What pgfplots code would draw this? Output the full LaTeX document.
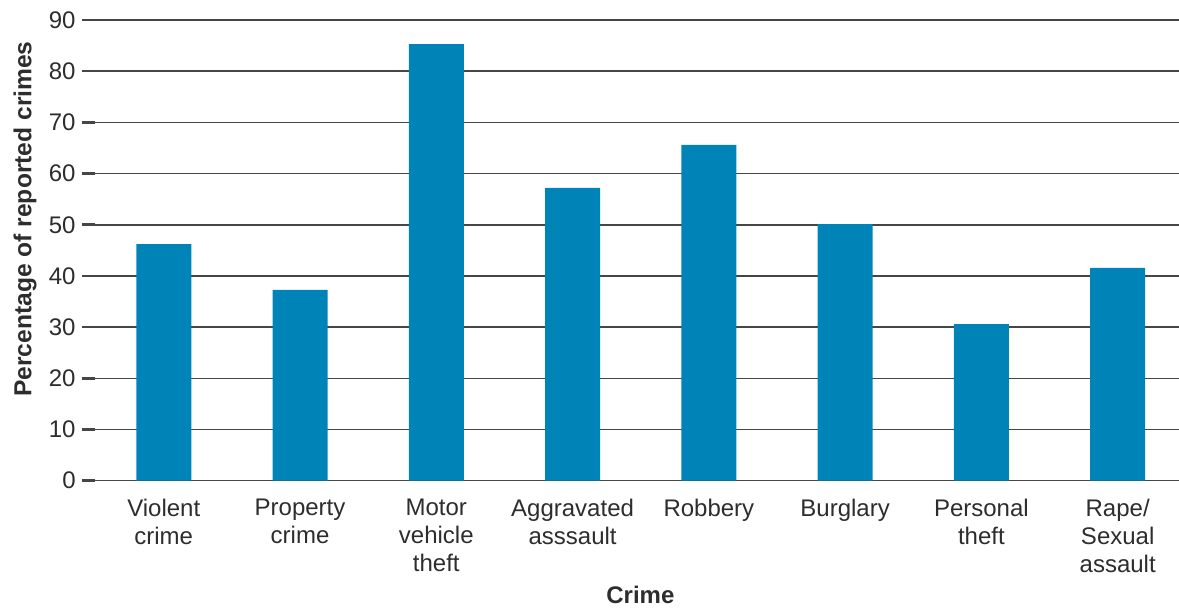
\documentclass[border=0pt]{standalone}
\usepackage{pgfplots}
\pgfplotsset{compat=1.18}
\usepackage{fontspec}
\setmainfont{Liberation Sans}
\definecolor{barblue}{RGB}{0,132,184}
\definecolor{gridgray}{RGB}{70,70,70}
\definecolor{txt}{RGB}{45,45,45}
\pgfplotstableread{
x y
0 46.2
1 37.3
2 85.3
3 57.2
4 65.6
5 50.1
6 30.6
7 41.6
}\crimedata
\begin{document}
\begin{tikzpicture}
\path[use as bounding box] (-41pt,-64.15pt) rectangle (548.5pt,240.35pt);
\begin{axis}[
  at={(0pt,0pt)}, anchor=south west,
  scale only axis, width=548.5pt, height=230.35pt,
  xmin=-0.6, xmax=7.45, ymin=0, ymax=90,
  ytick={0,10,...,90},
  xtick={0,...,7},
  ytick pos=left,
  xticklabels={{Violent\\crime},{Property\\crime},{Motor\\vehicle\\theft},{Aggravated\\asssault},{Robbery},{Burglary},{Personal\\theft},{Rape/\\Sexual\\assault}},
  xticklabel style={align=center, font=\fontsize{12}{14}\selectfont, text=txt, anchor=north, inner sep=0pt, yshift=-2.5pt},
  yticklabel style={font=\fontsize{12}{14}\selectfont, text=txt, anchor=east, inner sep=0pt, xshift=-3pt},
  /pgf/number format/assume math mode=true,
  axis line style={draw=none},
  xtick style={draw=none},
  ytick style={draw=gridgray, line width=1.3pt},
  tick align=inside,
  major tick length=6.5pt,
  ymajorgrids=true,
  major grid style={draw=gridgray, line width=0.8pt},
  ybar, bar width=27.5pt, bar shift=0pt,
  xlabel={\bfseries Crime},
  ylabel={\bfseries Percentage of reported crimes},
  every axis x label/.style={at={(axis description cs:0.509,0)}, yshift=-57pt, anchor=center, font=\fontsize{12}{14}\selectfont, text=txt},
  every axis y label/.style={at={(axis description cs:0,0.568)}, xshift=-28.5pt, rotate=90, anchor=center, font=\fontsize{12.3}{14}\selectfont, text=txt},
]
\addplot[fill=barblue, draw=none] table[x=x,y=y] {\crimedata};
\end{axis}
\end{tikzpicture}
\end{document}
